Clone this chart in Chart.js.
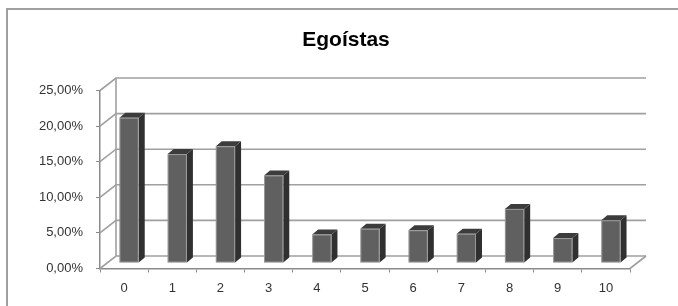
<!DOCTYPE html>
<html>
<head>
<meta charset="utf-8">
<script src="https://cdn.jsdelivr.net/npm/chart.js@4.4.1/dist/chart.umd.min.js"></script>
<style>
  html, body { margin: 0; padding: 0; background: #fff; }
  #wrap { width: 678px; height: 306px; }
</style>
</head>
<body>
<div id="wrap"><canvas id="myChart" width="678" height="306"></canvas></div>
<script>
const categories = ['0', '1', '2', '3', '4', '5', '6', '7', '8', '9', '10'];
const values = [20.4, 15.3, 16.4, 12.3, 4.0, 4.8, 4.6, 4.1, 7.6, 3.5, 6.0];
const yTicks = [0, 5, 10, 15, 20, 25];

// depth of the floor and of one column (pixels)
const DEPTH = { x: 16, y: -12.5 };
const BAR_OFF = { x: 5, y: -5.5 };
const BAR_DEPTH = { x: 6, y: -5 };

const frame3d = {
  id: 'frame3d',
  beforeDraw(chart) {
    const ctx = chart.ctx;
    ctx.save();
    ctx.fillStyle = '#fff';
    ctx.fillRect(0, 0, chart.width, chart.height);
    ctx.strokeStyle = '#a0a0a0';
    ctx.lineWidth = 2;
    ctx.strokeRect(7, 9, chart.width + 20, chart.height + 20);
    ctx.restore();
  },
  beforeDatasetsDraw(chart) {
    const { ctx, chartArea: a, scales: { x, y } } = chart;
    ctx.save();
    ctx.strokeStyle = '#a0a0a0';
    ctx.lineWidth = 1.6;
    yTicks.forEach(v => {
      const yy = y.getPixelForValue(v);
      ctx.beginPath();
      ctx.moveTo(a.left, yy);
      ctx.lineTo(a.left + DEPTH.x, yy + DEPTH.y);
      ctx.lineTo(a.right + DEPTH.x, yy + DEPTH.y);
      ctx.stroke();
    });
    const y0 = y.getPixelForValue(0);
    const yTop = y.getPixelForValue(yTicks[yTicks.length - 1]);
    ctx.beginPath();
    ctx.moveTo(a.left + DEPTH.x, y0 + DEPTH.y);
    ctx.lineTo(a.left + DEPTH.x, yTop + DEPTH.y);
    ctx.moveTo(a.right, y0);
    ctx.lineTo(a.right + DEPTH.x, y0 + DEPTH.y);
    ctx.stroke();
    ctx.restore();
  },
  afterDatasetsDraw(chart) {
    const ctx = chart.ctx;
    const meta = chart.getDatasetMeta(0);
    ctx.save();
    meta.data.forEach(el => {
      const p = el.getProps(['x', 'y', 'base', 'width'], true);
      const l = p.x - p.width / 2 + BAR_OFF.x;
      const r = p.x + p.width / 2 + BAR_OFF.x;
      const t = p.y + BAR_OFF.y;
      const b = p.base + BAR_OFF.y;
      const dx = BAR_DEPTH.x, dy = BAR_DEPTH.y;
      // side
      ctx.fillStyle = '#303030';
      ctx.beginPath();
      ctx.moveTo(r, t); ctx.lineTo(r + dx, t + dy); ctx.lineTo(r + dx, b + dy); ctx.lineTo(r, b);
      ctx.closePath(); ctx.fill();
      // top
      ctx.fillStyle = '#3c3c3c';
      ctx.beginPath();
      ctx.moveTo(l, t); ctx.lineTo(l + dx, t + dy); ctx.lineTo(r + dx, t + dy); ctx.lineTo(r, t);
      ctx.closePath(); ctx.fill();
      // front
      ctx.fillStyle = '#606060';
      ctx.fillRect(l, t, r - l, b - t);
      ctx.strokeStyle = 'rgba(255,255,255,0.35)';
      ctx.lineWidth = 1;
      ctx.strokeRect(l + 0.5, t + 0.5, r - l - 1, b - t - 1);
    });
    ctx.restore();
  }
};

const ctx = document.getElementById('myChart').getContext('2d');
const myChart = new Chart(ctx, {
  type: 'bar',
  data: {
    labels: categories,
    datasets: [{
      data: values,
      yAxisID: 'y',
      backgroundColor: 'rgba(0,0,0,0)',
      borderWidth: 0,
      barPercentage: 0.4,
      categoryPercentage: 1
    }]
  },
  options: {
    responsive: false,
    animation: false,
    layout: { padding: { left: 14, right: 0, top: 0, bottom: 0 } },
    plugins: {
      legend: { display: false },
      tooltip: { enabled: false },
      title: {
        display: true,
        text: 'Egoístas',
        color: '#000',
        font: { family: 'Liberation Sans', size: 21, weight: 'bold', lineHeight: 1.2 },
        padding: { top: 28, bottom: 37.3 }
      }
    },
    scales: {
      x: {
        grid: { offset: true, drawOnChartArea: false, tickLength: 4, color: '#8a8a8a', lineWidth: 1 },
        border: { display: true, color: '#8a8a8a', width: 1.5 },
        ticks: { color: '#333', font: { family: 'Liberation Sans', size: 13 }, padding: 8, maxRotation: 0 },
        afterFit(s) { s.height = 37.5; }
      },
      y: {
        min: 0,
        max: 25,
        grid: { drawOnChartArea: false, tickLength: 4, color: '#8a8a8a' },
        border: { display: true, color: '#8a8a8a', width: 1.5 },
        ticks: {
          stepSize: 5,
          color: '#333',
          font: { family: 'Liberation Sans', size: 13 },
          padding: 13,
          callback: v => v.toFixed(2).replace('.', ',') + '%'
        },
        afterFit(s) { s.width = 86; }
      },
      y2: {
        position: 'right',
        grid: { display: false },
        border: { display: false },
        ticks: { display: false },
        afterFit(s) { s.width = 48; }
      }
    }
  },
  plugins: [frame3d]
});
</script>
</body>
</html>
